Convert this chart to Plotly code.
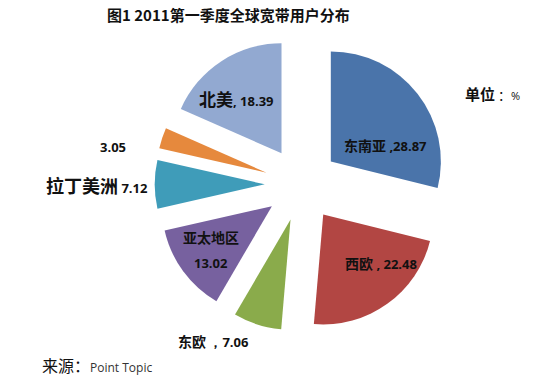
import plotly.graph_objects as go

regions = ["东南亚", "西欧", "东欧", "亚太地区", "拉丁美洲", "其他", "北美"]
shares = [28.87, 22.48, 7.06, 13.02, 7.12, 3.05, 18.39]
colors = ["#4A74AA", "#B24643", "#8AAB4B", "#77619F", "#3F9CB9", "#E6893D", "#92A9D1"]

title = "图1 2011第一季度全球宽带用户分布"
unit_label = "单位"
source_label = "来源："
source_name = "Point Topic"

fig = go.Figure(go.Pie(
    labels=regions, values=shares, sort=False, direction="clockwise", rotation=0,
    marker=dict(colors=colors, line=dict(width=0)),
    pull=[0.336] * len(shares), textinfo="none", hoverinfo="label+value",
    domain=dict(x=[0.2897, 0.8403], y=[0.1188, 0.9008]), showlegend=False,
))

cjk = "Noto Sans CJK SC"
num = "Open Sans"
ann = []
def add(x, y, text, size=12, xanchor="center"):
    ann.append(dict(x=x / 534, y=1 - y / 376, xref="paper", yref="paper", text=text,
                    showarrow=False, xanchor=xanchor, yanchor="middle",
                    font=dict(family=cjk, size=size, color="#111")))

def b(s, size, fam=cjk):
    return f"<span style='font-family:{fam};font-size:{size}px'><b>{s}</b></span>"

v = dict(zip(regions, shares))
add(228, 15, b(title, 15))
add(236, 98, b("北美", 17) + b(f", {v['北美']:.2f}", 13, num))
add(385, 145, b("东南亚", 14) + b(f" ,{v['东南亚']:.2f}", 13, num))
add(381, 263, b("西欧", 14) + b(f" , {v['西欧']:.2f}", 13, num))
add(211, 237, b("亚太地区", 14))
add(211, 263, b(f"{v['亚太地区']:.2f}", 13, num))
add(213, 341, b("东欧", 14) + b(f" ，{v['东欧']:.2f}", 13, num))
add(113, 147, b(f"{v['其他']:.2f}", 13, num))
add(97, 185, b("拉丁美洲", 18) + b(f" {v['拉丁美洲']:.2f}", 13, num))
add(463, 93, b(unit_label, 15) + "<span style='font-size:13px'> ：</span><span style='font-family:Open Sans;font-size:11px'>%</span>", xanchor="left")
add(40, 365, f"<span style='font-size:16px'>{source_label}</span><span style='font-family:Open Sans;font-size:12px;color:#333'>{source_name}</span>", xanchor="left")

fig.update_layout(width=534, height=376, margin=dict(l=0, r=0, t=0, b=0),
                  paper_bgcolor="white", plot_bgcolor="white", annotations=ann)
fig.write_html("out.html", config={"displayModeBar": False},
               post_script="document.body.style.margin='0';document.body.style.overflow='hidden';")
